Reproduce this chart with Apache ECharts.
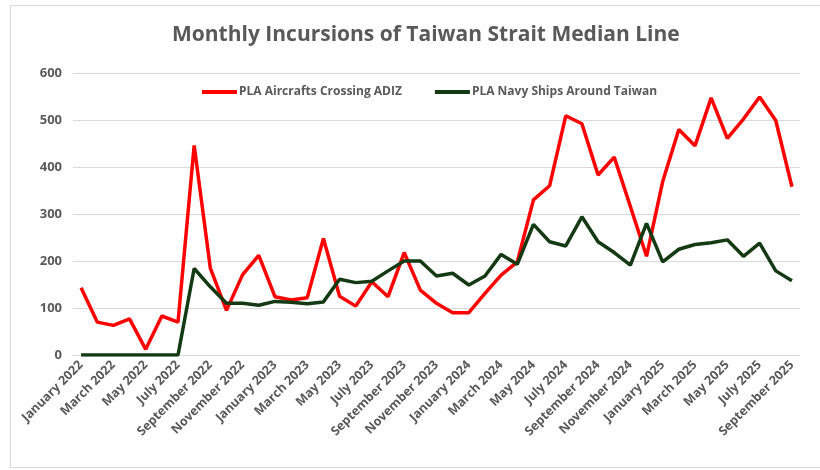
<!DOCTYPE html>
<html>
<head>
<meta charset="utf-8">
<script src="https://cdn.jsdelivr.net/npm/echarts@6/dist/echarts.min.js"></script>
<style>
html,body{margin:0;padding:0;background:#fff;}
#frame{position:absolute;left:10px;top:5px;width:830px;height:463px;border:1px solid #d9d9d9;box-sizing:border-box;}
#chart{position:absolute;left:0;top:0;width:820px;height:470px;}
</style>
</head>
<body>
<div id="frame"></div>
<div id="chart"></div>
<script>
const monthNames = ["January","February","March","April","May","June","July","August","September","October","November","December"];
const years = [2022, 2023, 2024, 2025];
const lastMonthCount = 45;
const categories = [];
for (const y of years) for (const m of monthNames) if (categories.length < lastMonthCount) categories.push(m + " " + y);

const aircraft = [143,70,63,77,12,83,70,446,185,95,171,212,124,117,122,248,125,104,156,124,218,138,110,90,90,131,170,198,330,360,509,492,383,421,316,210,369,480,445,547,461,502,549,499,358];
const ships = [0,0,0,0,0,0,0,184,145,110,110,106,114,112,109,113,161,154,157,179,200,200,168,174,149,168,214,193,278,241,232,294,241,218,191,280,198,225,235,239,245,210,238,179,158];
const seriesNames = ["PLA Aircrafts Crossing ADIZ", "PLA Navy Ships Around Taiwan"];
const titleText = "Monthly Incursions of Taiwan Strait Median Line";

const chart = echarts.init(document.getElementById('chart'));
const grey = '#595959';
const font = 'Open Sans';
chart.setOption({
  animation: false,
  title: {
    text: titleText, left: 167, top: 20,
    textStyle: {color: grey, fontSize: 21, fontWeight: 'bold', fontFamily: font}
  },
  legend: {
    left: 197, top: 81, itemWidth: 35, itemHeight: 4, itemGap: 33, icon: 'rect',
    textStyle: {color: grey, fontSize: 12, fontWeight: 'bold', fontFamily: font, padding: [0,0,0,-3]},
    data: seriesNames
  },
  grid: {left: 73, right: 20, top: 73, bottom: 115, containLabel: false},
  xAxis: {
    type: 'category', data: categories, boundaryGap: true,
    axisLine: {lineStyle: {color: '#d9d9d9', width: 1}},
    axisTick: {show: false},
    axisLabel: {interval: 1, rotate: 45, color: grey, fontSize: 12.5, fontWeight: 'bold', fontFamily: font, margin: 8}
  },
  yAxis: {
    type: 'value', min: 0, max: 600, interval: 100,
    axisLine: {show: false}, axisTick: {show: false},
    splitLine: {lineStyle: {color: '#d9d9d9', width: 1}},
    axisLabel: {color: grey, fontSize: 13, fontWeight: 'bold', fontFamily: font, margin: 11}
  },
  series: [
    {name: seriesNames[0], type: 'line', data: aircraft, symbol: 'none', lineStyle: {color: '#ff0000', width: 3.5}, itemStyle: {color: '#ff0000'}},
    {name: seriesNames[1], type: 'line', data: ships, symbol: 'none', lineStyle: {color: '#133a13', width: 3.5}, itemStyle: {color: '#133a13'}}
  ]
});
</script>
</body>
</html>
